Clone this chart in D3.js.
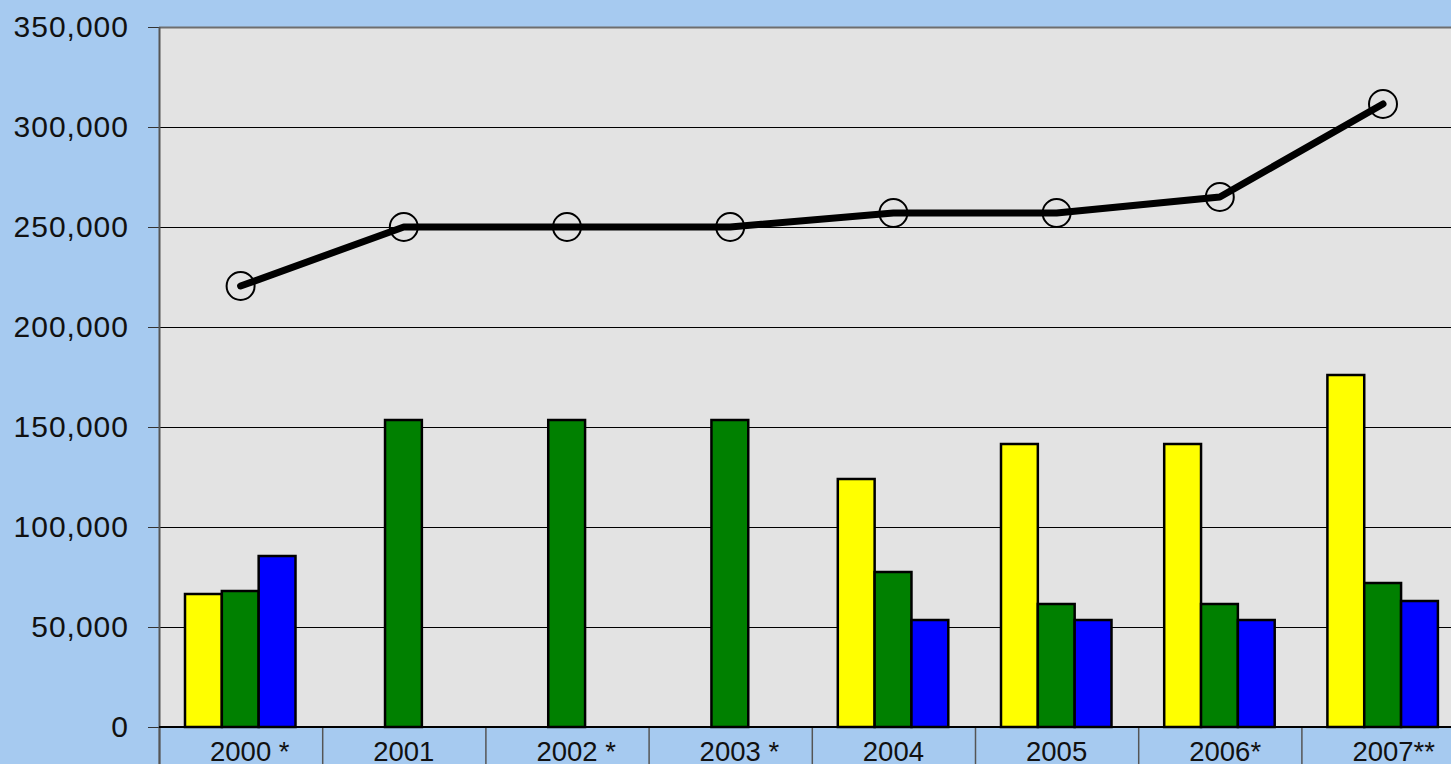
<!DOCTYPE html>
<html>
<head>
<meta charset="utf-8">
<script src="https://cdn.jsdelivr.net/npm/d3@7"></script>
<style>
  html, body { margin: 0; padding: 0; background: #a6caf0; overflow: hidden; }
  svg { display: block; font-family: "Liberation Sans", Arial, sans-serif; }
</style>
</head>
<body>
<svg width="1451" height="764"></svg>
<script>
// data
const years = ['2000 *', '2001', '2002 *', '2003 *', '2004', '2005', '2006*', '2007**'];
const yellowValues = [66500, null, null, null, 124000, 141500, 141500, 176000];
const greenValues = [68000, 153500, 153500, 153500, 77500, 61500, 61500, 72000];
const blueValues = [85500, null, null, null, 53500, 53500, 53500, 63000];
const totalValues = [220500, 250000, 250000, 250000, 257000, 257000, 265000, 311500];
const yTicks = [0, 50000, 100000, 150000, 200000, 250000, 300000, 350000];

const seriesKeys = ['yellow', 'green', 'blue'];
const seriesColors = ['#ffff00', '#008000', '#0000ff'];

let svg = d3.select('svg');
let plotLeft = 159, plotTop = 27, plotBottom = 727;
let catWidth = 163.2;

let x = d3.scaleBand()
          .domain(years)
          .range([plotLeft, plotLeft + catWidth * years.length]);

let xSeries = d3.scaleBand()
                .domain(seriesKeys)
                .range([26, 136.5]);

let y = d3.scaleLinear()
          .domain([0, 350000])
          .range([plotBottom, plotTop]);

let color = d3.scaleOrdinal().domain(seriesKeys).range(seriesColors);

let rows = years.map(function(d, i) {
  return { year: d, yellow: yellowValues[i], green: greenValues[i], blue: blueValues[i], total: totalValues[i] };
});

// plot background
svg.append('rect')
  .attr('x', plotLeft)
  .attr('y', plotTop)
  .attr('width', x.range()[1] - plotLeft)
  .attr('height', plotBottom - plotTop)
  .attr('fill', '#e3e3e3');

// gridlines
svg.append('g')
  .selectAll('line')
  .data(yTicks.slice(1, -1))
  .enter().append('line')
  .attr('x1', plotLeft)
  .attr('x2', x.range()[1])
  .attr('y1', function(d) { return y(d) + 0.5; })
  .attr('y2', function(d) { return y(d) + 0.5; })
  .attr('stroke', '#000')
  .attr('stroke-width', 1);

// top border
svg.append('line')
  .attr('x1', plotLeft).attr('x2', x.range()[1])
  .attr('y1', plotTop + 0.5).attr('y2', plotTop + 0.5)
  .attr('stroke', '#6e6e6e').attr('stroke-width', 2);

// y axis
let yAxis = svg.append('g')
  .attr('transform', 'translate(' + plotLeft + ',0)')
  .call(d3.axisLeft(y).tickValues(yTicks).tickSize(11).tickPadding(19).tickFormat(d3.format(',')));
yAxis.select('.domain').remove();
yAxis.selectAll('.tick line').attr('stroke', '#333');
yAxis.selectAll('text')
  .attr('font-size', 30)
  .attr('fill', '#111')
  .attr('font-family', '"Liberation Sans", Arial, sans-serif')
  .attr('letter-spacing', 1);

// bars
let group = svg.append('g')
  .selectAll('g')
  .data(rows)
  .enter().append('g')
  .attr('transform', function(d) { return 'translate(' + x(d.year) + ',0)'; });

group.selectAll('rect')
  .data(function(d) {
    return seriesKeys.map(function(k) { return { key: k, value: d[k] }; }).filter(function(e) { return e.value != null; });
  })
  .enter().append('rect')
  .attr('x', function(d) { return xSeries(d.key); })
  .attr('y', function(d) { return y(d.value); })
  .attr('width', xSeries.bandwidth())
  .attr('height', function(d) { return plotBottom - y(d.value); })
  .attr('fill', function(d) { return color(d.key); })
  .attr('stroke', '#000')
  .attr('stroke-width', 2.5);

// category table under the plot
svg.append('g')
  .selectAll('line')
  .data(years)
  .enter().append('line')
  .attr('x1', function(d) { return x(d) + 0.5; })
  .attr('x2', function(d) { return x(d) + 0.5; })
  .attr('y1', plotBottom)
  .attr('y2', 764)
  .attr('stroke', '#555')
  .attr('stroke-width', 1.5);

// the year digits are centred, the asterisks hang after them
let catLabel = svg.append('g')
  .selectAll('text')
  .data(years)
  .enter().append('text')
  .attr('y', 761)
  .attr('font-size', 27.5)
  .attr('fill', '#111')
  .text(function(d) { return d; });

catLabel.each(function(d) {
  let node = this;
  let yearPart = d.match(/^\d+/)[0];
  let probe = svg.append('text').attr('font-size', 27.5).text(yearPart);
  let w = probe.node().getComputedTextLength();
  probe.remove();
  d3.select(node).attr('x', x(d) + x.bandwidth() / 2 - w / 2);
});

// left border and x axis line
svg.append('line')
  .attr('x1', plotLeft + 0.5).attr('x2', plotLeft + 0.5)
  .attr('y1', plotTop).attr('y2', 764)
  .attr('stroke', '#555').attr('stroke-width', 2);
svg.append('line')
  .attr('x1', plotLeft).attr('x2', x.range()[1])
  .attr('y1', plotBottom).attr('y2', plotBottom)
  .attr('stroke', '#000').attr('stroke-width', 2);

// total line
let line = d3.line()
  .x(function(d) { return x(d.year) + x.bandwidth() / 2; })
  .y(function(d) { return y(d.total); });

svg.append('path')
  .datum(rows)
  .attr('d', line)
  .attr('fill', 'none')
  .attr('stroke', '#000')
  .attr('stroke-width', 7)
  .attr('stroke-linecap', 'round')
  .attr('stroke-linejoin', 'round');

svg.append('g')
  .selectAll('circle')
  .data(rows)
  .enter().append('circle')
  .attr('cx', function(d) { return x(d.year) + x.bandwidth() / 2; })
  .attr('cy', function(d) { return y(d.total); })
  .attr('r', 14)
  .attr('fill', 'none')
  .attr('stroke', '#000')
  .attr('stroke-width', 2);
</script>
</body>
</html>
